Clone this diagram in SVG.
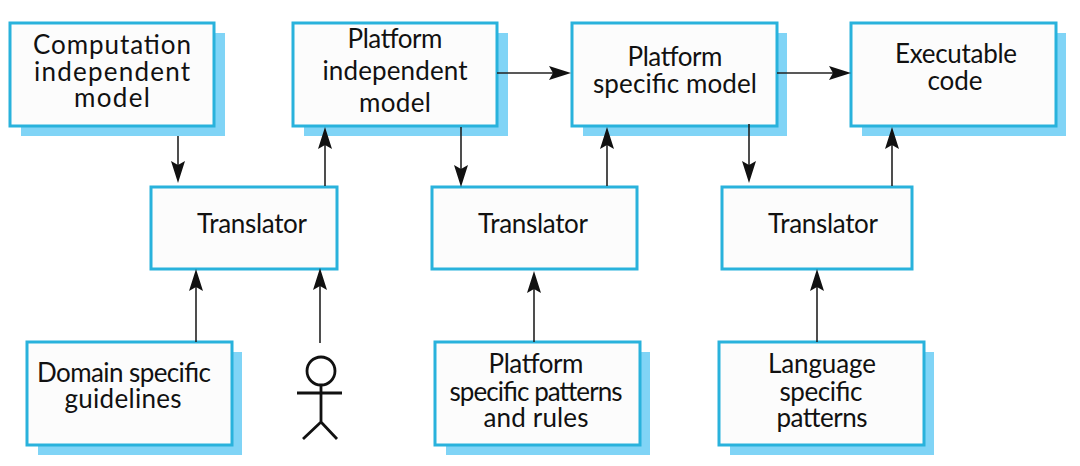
<svg xmlns="http://www.w3.org/2000/svg" width="1080" height="466" viewBox="0 0 1080 466">
<defs>
<marker id="arr" markerUnits="userSpaceOnUse" markerWidth="23" markerHeight="15" refX="4" refY="7" orient="auto"><path d="M0 0L22 7L0 14L4 7Z" fill="#111"/></marker>
</defs>
<style>
.box{fill:#fcfcfc;stroke:#29b2dc;stroke-width:3}
.sh{fill:#80d4f6}
text{font-family:Lato,"Open Sans",sans-serif;font-size:26px;fill:#111;text-anchor:middle}
.c{fill:none;stroke:#222;stroke-width:1.6}
</style>
<rect width="1080" height="466" fill="#fff"/>
<g id="cim"><rect class="sh" x="21" y="33" width="204" height="103"/><rect class="box" x="10" y="23" width="204" height="103"/><text x="112" y="54" textLength="158">Computation</text><text x="112" y="81" textLength="156">independent</text><text x="112" y="107" textLength="76">model</text></g>
<g id="pim"><rect class="sh" x="304" y="33" width="204" height="103"/><rect class="box" x="293" y="23" width="204" height="103"/><text x="395" y="48" textLength="95">Platform</text><text x="395" y="80" textLength="145">independent</text><text x="395" y="112" textLength="72">model</text></g>
<g id="psm"><rect class="sh" x="583" y="33" width="204" height="103"/><rect class="box" x="572" y="23" width="205" height="103"/><text x="675" y="66" textLength="95">Platform</text><text x="675" y="93" textLength="164">specific model</text></g>
<g id="code"><rect class="sh" x="862" y="33" width="204" height="103"/><rect class="box" x="851" y="23" width="205" height="103"/><text x="956" y="63" textLength="122">Executable</text><text x="955" y="90" textLength="55">code</text></g>
<g id="t1"><rect class="box" x="151" y="187" width="186" height="82"/><text x="252" y="233" textLength="110">Translator</text></g>
<g id="t2"><rect class="box" x="432" y="187" width="205" height="82"/><text x="533" y="233" textLength="110">Translator</text></g>
<g id="t3"><rect class="box" x="722" y="187" width="190" height="82"/><text x="823" y="233" textLength="110">Translator</text></g>
<g id="dsg"><rect class="sh" x="38" y="352" width="204" height="103"/><rect class="box" x="27" y="342" width="205" height="103"/><text x="124" y="382" textLength="174">Domain specific</text><text x="123" y="408" textLength="117">guidelines</text></g>
<g id="pspr"><rect class="sh" x="446" y="352" width="204" height="103"/><rect class="box" x="435" y="342" width="205" height="103"/><text x="536" y="373" textLength="95">Platform</text><text x="536" y="401" textLength="173">specific patterns</text><text x="536" y="427" textLength="105">and rules</text></g>
<g id="lsp"><rect class="sh" x="730" y="352" width="204" height="103"/><rect class="box" x="719" y="342" width="205" height="103"/><text x="822" y="373" textLength="108">Language</text><text x="821" y="401" textLength="83">specific</text><text x="822" y="427" textLength="91">patterns</text></g>
<g id="actor" fill="none" stroke="#111" stroke-width="2.8"><circle cx="321" cy="371" r="14"/><path d="M321 385V422M297 393H342M321 422L303 439M321 422L337 439"/></g>
<g id="connectors">
<path class="c" marker-end="url(#arr)" d="M178 136V165"/>
<path class="c" marker-end="url(#arr)" d="M325 186V145"/>
<path class="c" marker-end="url(#arr)" d="M461 127V169"/>
<path class="c" marker-end="url(#arr)" d="M607 186V145"/>
<path class="c" marker-end="url(#arr)" d="M749 124V165"/>
<path class="c" marker-end="url(#arr)" d="M892 186V145"/>
<path class="c" marker-end="url(#arr)" d="M497 73H553"/>
<path class="c" marker-end="url(#arr)" d="M777 73H833"/>
<path class="c" marker-end="url(#arr)" d="M196 342V287"/>
<path class="c" marker-end="url(#arr)" d="M320 343V286"/>
<path class="c" marker-end="url(#arr)" d="M534 342V289"/>
<path class="c" marker-end="url(#arr)" d="M817 342V287"/>
</g>
</svg>
